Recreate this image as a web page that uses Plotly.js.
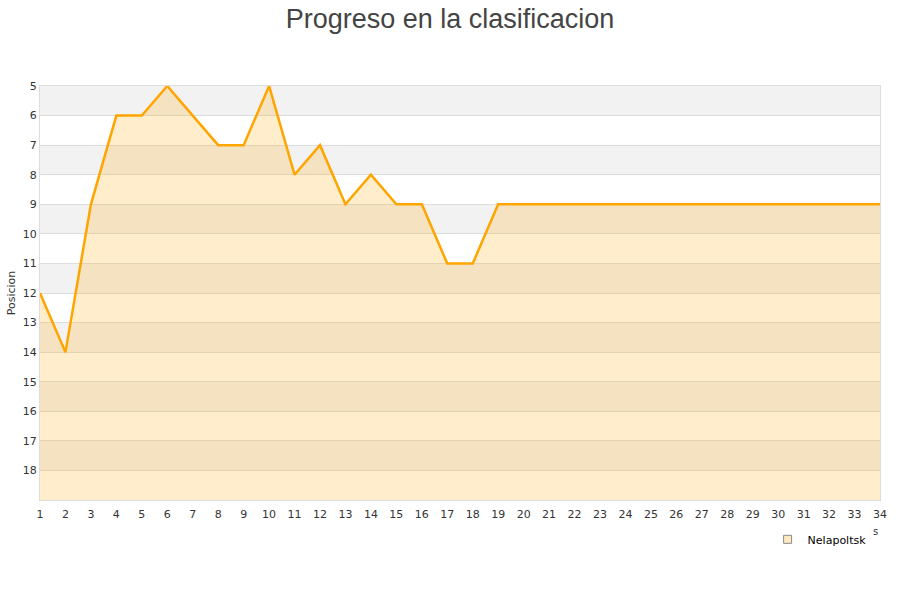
<!DOCTYPE html>
<html><head><meta charset="utf-8">
<script src="https://cdn.plot.ly/plotly-3.0.1.min.js"></script>
<style>body{margin:0;}#chart{width:900px;height:600px;}</style>
</head><body><div id="chart"></div>
<script>
const jornadas = [1,2,3,4,5,6,7,8,9,10,11,12,13,14,15,16,17,18,19,20,21,22,23,24,25,26,27,28,29,30,31,32,33,34];
const posicion = [12,14,9,6,6,5,6,7,7,5,8,7,9,8,9,9,11,11,9,9,9,9,9,9,9,9,9,9,9,9,9,9,9,9];
const fondo = jornadas.map(() => 19);
const equipo = 'Nelapoltsk';
const yTicks = [5,6,7,8,9,10,11,12,13,14,15,16,17,18];

const shapes = [];
for (let k = 5; k < 19; k += 2) {
  shapes.push({type:'rect', xref:'paper', yref:'y', x0:0, x1:1, y0:k, y1:k+1,
    fillcolor:'#f2f2f2', line:{width:0}, layer:'below'});
}

const traces = [
  {x: jornadas, y: fondo, mode:'lines', line:{width:0}, hoverinfo:'skip', showlegend:false},
  {x: jornadas, y: posicion, mode:'lines', name: equipo, fill:'tonexty',
   fillcolor:'rgba(255,165,0,0.2)', line:{color:'#ffa500', width:2.5}, showlegend:false},
  {x:[null], y:[null], mode:'markers', name: equipo,
   marker:{symbol:'square', size:8, color:'#ffe9c0', line:{color:'#888888', width:1}}}
];

const layout = {
  width:900, height:600,
  margin:{l:40, r:20, t:86, b:100},
  paper_bgcolor:'#ffffff', plot_bgcolor:'#ffffff',
  font:{family:'DejaVu Sans, sans-serif', size:11, color:'#333'},
  title:{text:'Progreso en la clasificacion', x:0.5, xanchor:'center', y:0.985, yanchor:'top',
    font:{family:'Liberation Sans, Arial, sans-serif', size:27, color:'#444'}},
  shapes: shapes,
  annotations:[{text:'s', xref:'paper', yref:'paper', x:0.9952, y:-0.075, xanchor:'center', yanchor:'middle',
    showarrow:false, font:{size:10, color:'#333'}}],
  xaxis:{range:[1,34], tickvals:jornadas, ticktext:jornadas.map(String), showgrid:false,
    zeroline:false, showline:true, linecolor:'#dddddd', mirror:true, ticks:'', ticklen:0,
    ticklabelstandoff:4, tickfont:{size:11, color:'#333'}},
  yaxis:{range:[19,5], tickvals:yTicks, showgrid:true, gridcolor:'#dddddd', gridwidth:1,
    zeroline:false, showline:true, linecolor:'#dddddd', mirror:true, ticks:'',
    tickfont:{size:11, color:'#333'},
    title:{text:'Posicion', font:{size:11, color:'#333'}, standoff:4}},
  legend:{orientation:'h', x:0.99, xanchor:'right', y:-0.06, yanchor:'top',
    itemwidth:30, font:{size:11, color:'#000'}, bgcolor:'rgba(0,0,0,0)'},
  showlegend:true
};

Plotly.newPlot('chart', traces, layout, {displayModeBar:false, staticPlot:true});
</script></body></html>
